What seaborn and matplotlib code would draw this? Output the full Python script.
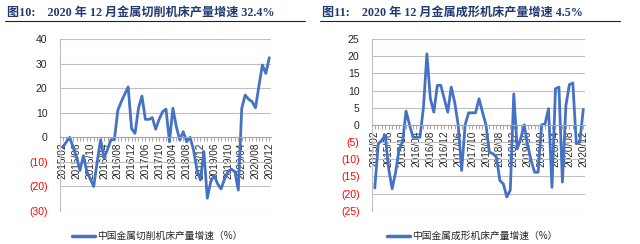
import numpy as np
import pandas as pd
import seaborn as sns
import matplotlib.pyplot as plt
from matplotlib.lines import Line2D
from matplotlib.ticker import FuncFormatter, MultipleLocator

# ---------------- data ----------------
months = ['2015/%02d' % m for m in range(2, 13)] + \
         ['%d/%02d' % (y, m) for y in range(2016, 2021) for m in range(3, 13)]

cutting = [-4, -2, 0, -4, -8, -13.5, -7.5, -14, -17, -20, -10,
           -1, -8.5, -5, -1, -1, 11, 14.5, 17.5, 20.5, 3.5,
           1.6, 11.8, 16.8, 7.3, 7.3, 8, 3.3, 7.3, 10.4, 11.5,
           -1.8, 11.8, 4.3, -1.1, 2.3, -1.8, 0, -5.2, -13.3, -17.4,
           -5.8, -24.8, -18, -15.5, -19, -21, -17, -14, -13, -14,
           -21.5, 11.8, 17.2, 15.5, 14.5, 12, 21, 29.4, 26, 32.4]

forming = [-18.4, -5.5, -4.5, -3, -12.8, -18.6, -13.8, -7, -5, 4, 0,
           -3.6, -3.6, -3.6, 5, 20.7, 7.6, 3.7, 11.5, 11.5, 7.6,
           3.7, 11, 6.6, 0, -13.3, 0, 3.5, 3.5, 3.5, 7.6,
           3.7, 0, -8, -8.4, -9.4, -16.2, -17.2, -21, -19, 9,
           -7, -4, 0, -6, -10.4, -13.8, -13.8, 0, 0.3, 4.7,
           -18.2, 10.5, 11, -16.7, 5.6, 11.7, 12.2, -5.5, -5, 4.5]

tick_labels = ['2015/02', '2015/06', '2015/10', '2016/04', '2016/08', '2016/12',
               '2017/06', '2017/10', '2018/04', '2018/08', '2018/12', '2019/06',
               '2019/10', '2020/04', '2020/08', '2020/12']

titles = ['图10:    2020 年 12 月金属切削机床产量增速 32.4%',
          '图11:    2020 年 12 月金属成形机床产量增速 4.5%']
legends = ['中国金属切削机床产量增速（%）', '中国金属成形机床产量增速（%）']

# ---------------- style ----------------
sns.set_theme(style='white')
plt.rcParams['font.family'] = ['Liberation Sans', 'Noto Sans CJK SC']

LINE = '#4472C4'
GRID = '#BFBFBF'
TITLE_C = '#1F3A70'

fig = plt.figure(figsize=(6.4, 2.44), dpi=100)

panels = [
    dict(vals=cutting, rect=[60/640, 1-211/244, 211/640, 172/244],
         ylim=(-30, 40), step=10, title_x=7/640, rule=(5/640, 305/640),
         leg_x=72/640),
    dict(vals=forming, rect=[372/640, 1-210.7/244, 213/640, 171.7/244],
         ylim=(-25, 25), step=5, title_x=322/640, rule=(320/640, 620/640),
         leg_x=387/640),
]

def yfmt(v, pos):
    v = int(round(v))
    return '(%d)' % abs(v) if v < 0 else '%d' % v

for p, title, leg in zip(panels, titles, legends):
    ax = fig.add_axes(p['rect'])
    df = pd.DataFrame({'idx': np.arange(len(months)), 'month': months, 'val': p['vals']})
    sns.lineplot(data=df, x='idx', y='val', ax=ax, color=LINE, linewidth=2.0,
                 legend=False)
    ax.set_xlim(-0.8, len(months) - 0.5)
    ax.set_ylim(*p['ylim'])
    ax.yaxis.set_major_locator(MultipleLocator(p['step']))
    ax.yaxis.set_major_formatter(FuncFormatter(yfmt))
    ax.grid(axis='y', color=GRID, linewidth=0.8)
    ax.set_axisbelow(True)
    ax.set_xlabel('')
    ax.set_ylabel('')
    for s in ['top', 'right']:
        ax.spines[s].set_visible(False)
    ax.spines['left'].set_color(GRID)
    ax.spines['left'].set_linewidth(0.8)
    ax.spines['bottom'].set_position(('data', 0))
    ax.spines['bottom'].set_color('#A6A6A6')
    ax.spines['bottom'].set_linewidth(0.8)
    major = [months.index(t) for t in tick_labels]
    ax.set_xticks(major)
    ax.set_xticklabels(tick_labels, rotation=90, fontsize=7.2, color='#262626',
                       va='top', ha='center')
    ax.set_xticks(np.arange(len(months)), minor=True)
    ax.tick_params(axis='x', which='both', direction='out', length=3,
                   color='#A6A6A6', width=0.7, pad=1, bottom=True)
    ax.tick_params(axis='y', length=0, labelsize=7.5, pad=9)
    for lbl in ax.get_yticklabels():
        txt = lbl.get_text()
        lbl.set_color('#FF0000' if txt.startswith('(') else '#262626')

    fig.text(p['title_x'], 1 - 13/244, title, fontsize=8.7, fontweight='bold',
             color=TITLE_C, va='center', ha='left',
             family=['Liberation Serif', 'Noto Sans CJK SC'])
    fig.add_artist(Line2D(list(p['rule']), [1 - 20.5/244] * 2,
                          color='#222222', linewidth=0.8))
    lx = p['leg_x']
    ly = 1 - 236/244
    fig.add_artist(Line2D([lx, lx + 23/640], [ly, ly], color=LINE, linewidth=2.5))
    fig.text(lx + 25/640, ly, leg, fontsize=7, color='#262626',
             va='center', ha='left', family=['Noto Sans CJK SC'])

fig.savefig('out.png', dpi=100)
